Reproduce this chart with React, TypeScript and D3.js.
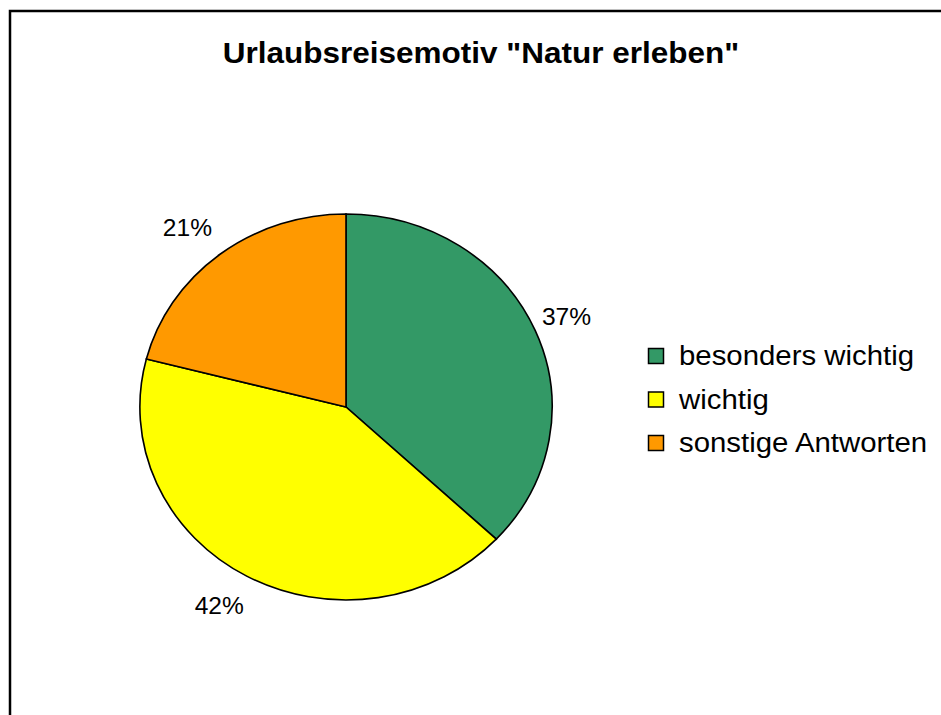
import * as d3 from 'd3';

// Chart data
const categories = ['besonders wichtig', 'wichtig', 'sonstige Antworten'];
const shares = [37, 42, 21];
const sliceColors = ['#339966', '#FFFF00', '#FF9900'];
const title = 'Urlaubsreisemotiv "Natur erleben"';

// The original is stretched horizontally a bit, pie included
const SX = 1.068;
const FONT = 'Arial, "Liberation Sans", Helvetica, sans-serif';

export default function App() {
  const width = 941;
  const height = 715;
  const cx = 346;
  const cy = 407;
  const radius = 193;

  const pie = d3.pie<number>().sort(null).value((d) => d);
  const arcs = pie(shares);
  const arc = d3.arc<d3.PieArcDatum<number>>().innerRadius(0).outerRadius(radius);
  const labelArc = d3.arc<d3.PieArcDatum<number>>().innerRadius(227).outerRadius(227);

  const legendX = 648;
  const legendY = 348;
  const legendStep = 43.5;

  return (
    <svg
      width={width}
      height={height}
      style={{ position: 'absolute', left: 0, top: 0, display: 'block', background: '#fff' }}
    >
      {/* chart frame, runs off the right and bottom edges */}
      <rect x={10} y={11} width={1000} height={1000} fill="#fff" stroke="#000" strokeWidth={2.5} />

      <text
        transform={`translate(481,63) scale(${SX},1)`}
        textAnchor="middle"
        fontFamily={FONT}
        fontWeight="bold"
        fontSize={29.5}
        fill="#000"
      >
        {title}
      </text>

      <g transform={`translate(${cx},${cy}) scale(${SX},1)`}>
        {arcs.map((a, i) => (
          <path
            key={categories[i]}
            d={arc(a) || ''}
            fill={sliceColors[i]}
            stroke="#000"
            strokeWidth={1.6}
            vectorEffect="non-scaling-stroke"
          />
        ))}
      </g>

      {arcs.map((a, i) => {
        const [lx, ly] = labelArc.centroid(a);
        // labels on the left half sit a little further out
        const shift = lx < 0 ? -10 : -2;
        return (
          <text
            key={'lbl' + i}
            transform={`translate(${cx + lx * SX + shift},${cy + ly}) scale(${SX},1)`}
            dy="0.35em"
            textAnchor="middle"
            fontFamily={FONT}
            fontSize={23}
            fill="#000"
          >
            {shares[i]}%
          </text>
        );
      })}

      {categories.map((c, i) => (
        <g key={'leg' + i} transform={`translate(${legendX},${legendY + i * legendStep})`}>
          <rect x={0.5} y={0.5} width={15} height={15} fill={sliceColors[i]} stroke="#000" strokeWidth={1.5} />
          <text
            transform={`translate(31,17) scale(${SX},1)`}
            fontFamily={FONT}
            fontSize={27.5}
            fill="#000"
          >
            {c}
          </text>
        </g>
      ))}
    </svg>
  );
}
